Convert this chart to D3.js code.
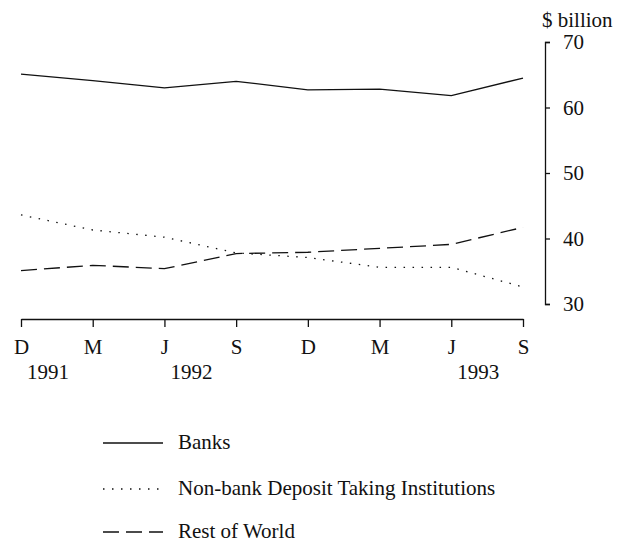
<!DOCTYPE html>
<html lang="en">
<head>
    <meta charset="UTF-8">
    <title>Holdings, $ billion</title>
    <style>
        body {
            margin: 0;
            background: #fff;
            font-family: "Liberation Serif", "DejaVu Serif", serif;
        }

        .line {
            fill: none;
            stroke: #111;
            stroke-width: 1.3px;
        }

        .axis path, .axis line {
            stroke: #111;
            stroke-width: 1.3px;
            fill: none;
        }

        text {
            fill: #111;
            font-family: "Liberation Serif", "DejaVu Serif", serif;
        }
    </style>
</head>

<body>
    <div id="content"></div>
    <script src="https://d3js.org/d3.v7.min.js"></script>
    <script>
        // quarters, Dec 1991 .. Sep 1993
        var quarters = ["1991-12", "1992-03", "1992-06", "1992-09", "1992-12", "1993-03", "1993-06", "1993-09"];
        var quarterLabels = ["D", "M", "J", "S", "D", "M", "J", "S"];
        var yearLabels = [["1991-12", "1991"], ["1992-06", "1992"], ["1993-06", "1993"]];

        var banks = [65.1, 64.1, 63.0, 64.0, 62.7, 62.8, 61.8, 64.5];
        var nonBank = [43.6, 41.3, 40.2, 37.8, 37.1, 35.6, 35.6, 32.6];
        var restOfWorld = [35.1, 35.9, 35.4, 37.7, 37.9, 38.5, 39.1, 41.7];

        var yTicks = [30, 40, 50, 60, 70];

        var series = [
            { name: "Banks", values: banks, dash: null },
            { name: "Non-bank Deposit Taking Institutions", values: nonBank, dash: "1.5,7.5" },
            { name: "Rest of World", values: restOfWorld, dash: "16,7" }
        ];

        var width = 630, height = 549;
        var fontSize = "21px";

        var svg = d3.select("#content").append("svg")
            .attr("width", width)
            .attr("height", height);

        var x = d3.scalePoint().domain(quarters).range([21, 523]);
        var y = d3.scaleLinear().domain([30, 70]).range([304, 42]);

        // x axis: ticks hang below the line
        var xAxis = d3.axisBottom(x)
            .tickSize(8)
            .tickSizeOuter(0)
            .tickFormat(function (d, i) { return quarterLabels[i]; });

        var gx = svg.append("g")
            .attr("class", "axis")
            .attr("transform", "translate(0,319)")
            .call(xAxis);
        gx.selectAll("text")
            .attr("y", 20)
            .style("font-size", fontSize);

        svg.append("g")
            .selectAll("text")
            .data(yearLabels)
            .join("text")
            .attr("x", function (d) { return x(d[0]) + 6; })
            .attr("y", 379)
            .style("font-size", fontSize)
            .text(function (d) { return d[1]; });

        // y axis on the right, ticks point right
        var yAxis = d3.axisRight(y)
            .tickValues(yTicks)
            .tickSize(5)
            .tickSizeOuter(5)
            .tickPadding(13);

        var gy = svg.append("g")
            .attr("class", "axis")
            .attr("transform", "translate(545,0)")
            .call(yAxis);
        gy.selectAll("text").style("font-size", fontSize);

        svg.append("text")
            .attr("x", 542)
            .attr("y", 27)
            .style("font-size", fontSize)
            .text("$ billion");

        var line = d3.line()
            .x(function (d, i) { return x(quarters[i]); })
            .y(function (d) { return y(d); });

        svg.selectAll(".series")
            .data(series)
            .join("path")
            .attr("class", "line series")
            .attr("stroke-dasharray", function (d) { return d.dash; })
            .attr("d", function (d) { return line(d.values); });

        // legend
        var legend = svg.append("g")
            .selectAll("g")
            .data(series)
            .join("g")
            .attr("transform", function (d, i) { return "translate(103," + [443, 489, 532][i] + ")"; });

        legend.append("line")
            .attr("class", "line")
            .attr("x1", 0)
            .attr("x2", 60)
            .attr("stroke-dasharray", function (d) { return d.dash; });

        legend.append("text")
            .attr("x", 75)
            .attr("y", 6)
            .style("font-size", fontSize)
            .text(function (d) { return d.name; });
    </script>
</body>

</html>
